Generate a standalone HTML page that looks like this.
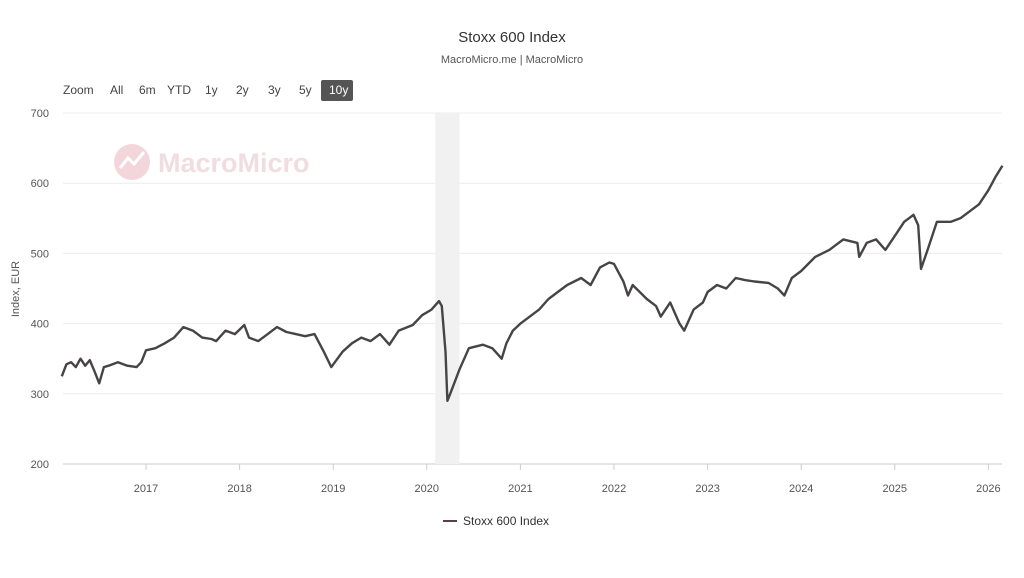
<!DOCTYPE html>
<html><head><meta charset="utf-8"><style>
body{margin:0;background:#fff;font-family:"Liberation Sans",sans-serif}
svg text{font-family:"Liberation Sans",sans-serif}
</style></head><body>
<svg id="chart" width="1024" height="573" viewBox="0 0 1024 573">
<text x="512" y="42" text-anchor="middle" font-size="15" fill="#333">Stoxx 600 Index</text>
<text x="512" y="63" text-anchor="middle" font-size="11" fill="#555">MacroMicro.me | MacroMicro</text>
<g font-size="12" fill="#444">
<text x="63" y="94">Zoom</text>
<text x="110" y="94">All</text>
<text x="139" y="94">6m</text>
<text x="167" y="94">YTD</text>
<text x="205" y="94">1y</text>
<text x="236" y="94">2y</text>
<text x="268" y="94">3y</text>
<text x="299" y="94">5y</text>
<rect x="321" y="80" width="32" height="21" fill="#555" rx="2"/>
<text x="329" y="94" fill="#fff">10y</text>
</g>
<g>
<circle cx="132" cy="162" r="18" fill="#f3d6da"/>
<path d="M120 168 L128 158 L134 164 L144 152" stroke="#fff" stroke-width="3" fill="none"/>
<text x="158" y="172" font-size="27" fill="#f1dde0" font-weight="bold">MacroMicro</text>
</g>
<g id="grid"></g>
<rect id="band" fill="#f1f1f1"/>
<g id="xaxis"></g>
<path id="line" fill="none" stroke="#474446" stroke-width="2.4" stroke-linejoin="round"/>
<text transform="translate(19,289) rotate(-90)" text-anchor="middle" font-size="11" fill="#555">Index, EUR</text>
<g>
<line x1="443" y1="521" x2="457" y2="521" stroke="#5a3f46" stroke-width="2"/>
<text x="463" y="525" font-size="12" fill="#333">Stoxx 600 Index</text>
</g>
</svg>
<script>
const dates=[2016.10,2016.15,2016.2,2016.25,2016.3,2016.35,2016.4,2016.45,2016.5,2016.55,2016.6,2016.7,2016.8,2016.9,2016.95,2017.0,2017.1,2017.2,2017.3,2017.4,2017.5,2017.6,2017.7,2017.75,2017.85,2017.95,2018.05,2018.1,2018.2,2018.3,2018.4,2018.5,2018.6,2018.7,2018.8,2018.9,2018.98,2019.1,2019.2,2019.3,2019.4,2019.5,2019.6,2019.7,2019.85,2019.95,2020.05,2020.13,2020.16,2020.2,2020.22,2020.25,2020.35,2020.45,2020.6,2020.7,2020.8,2020.85,2020.92,2021.0,2021.1,2021.2,2021.3,2021.4,2021.5,2021.65,2021.75,2021.85,2021.95,2022.0,2022.1,2022.15,2022.2,2022.35,2022.45,2022.5,2022.6,2022.7,2022.75,2022.85,2022.95,2023.0,2023.1,2023.2,2023.3,2023.4,2023.5,2023.65,2023.75,2023.82,2023.9,2024.0,2024.15,2024.3,2024.45,2024.6,2024.62,2024.7,2024.8,2024.9,2025.0,2025.1,2025.2,2025.25,2025.28,2025.35,2025.45,2025.6,2025.7,2025.8,2025.9,2026.0,2026.08,2026.15];
const values=[325,342,345,338,350,340,348,332,315,338,340,345,340,338,345,362,365,372,380,395,390,380,378,375,390,385,398,380,375,385,395,388,385,382,385,360,338,360,372,380,375,385,370,390,398,412,420,432,425,360,290,300,335,365,370,365,350,372,390,400,410,420,435,445,455,465,455,480,487,485,460,440,455,435,425,410,430,400,390,420,430,445,455,450,465,462,460,458,450,440,465,475,495,505,520,515,495,515,520,505,525,545,555,540,478,505,545,545,550,560,570,590,610,625];
const yTicks=[200,300,400,500,600,700];
const xTicks=[2017,2018,2019,2020,2021,2022,2023,2024,2025,2026];
const band=[2020.09,2020.35];
const x=d=>146+(d-2017)*93.6, y=v=>464-(v-200)*0.702;
const NS="http://www.w3.org/2000/svg";
const g=document.getElementById('grid'), xa=document.getElementById('xaxis');
yTicks.forEach(t=>{
 const l=document.createElementNS(NS,'line');
 l.setAttribute('x1',63);l.setAttribute('x2',1002);l.setAttribute('y1',y(t));l.setAttribute('y2',y(t));
 l.setAttribute('stroke',t===200?'#ccc':'#ececec');
 
 
 g.appendChild(l);
 const tx=document.createElementNS(NS,'text');
 tx.setAttribute('x',49);tx.setAttribute('y',y(t)+4);tx.setAttribute('text-anchor','end');tx.setAttribute('font-size','11');tx.setAttribute('fill','#555');
 tx.textContent=t;
 
 
 g.appendChild(tx);
});
xTicks.forEach(t=>{
 const l=document.createElementNS(NS,'line');
 l.setAttribute('x1',x(t));l.setAttribute('x2',x(t));l.setAttribute('y1',464);l.setAttribute('y2',470);l.setAttribute('stroke','#ccc');
 
 
 xa.appendChild(l);
 const tx=document.createElementNS(NS,'text');
 tx.setAttribute('x',x(t));tx.setAttribute('y',492);tx.setAttribute('text-anchor','middle');tx.setAttribute('font-size','11');tx.setAttribute('fill','#555');
 tx.textContent=t;
 
 
 xa.appendChild(tx);
});
const b=document.getElementById('band');
b.setAttribute('x',x(band[0]));b.setAttribute('width',x(band[1])-x(band[0]));b.setAttribute('y',113);b.setAttribute('height',351);
document.getElementById('line').setAttribute('d',dates.map((d,i)=>(i?'L':'M')+x(d).toFixed(1)+' '+y(values[i]).toFixed(1)).join(' '));
</script>
</body></html>
